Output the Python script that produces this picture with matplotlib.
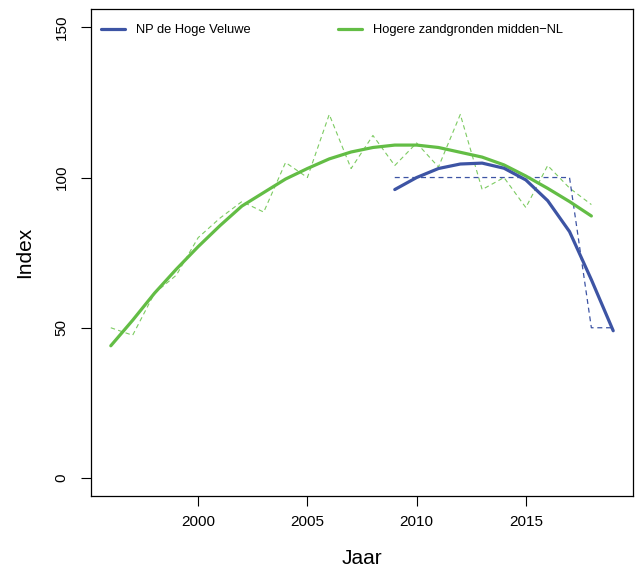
import matplotlib.pyplot as plt
import numpy as np

plt.rcParams['font.family'] = ['Liberation Sans', 'DejaVu Sans']

# Data
years_green = np.arange(1996, 2019)
green_index = [50, 47.5, 61.5, 67.5, 80, 86.5, 92, 88.5, 105, 100, 121,
               103, 114, 104, 111.5, 103.5, 121, 96, 100, 90, 104, 96.5, 91]
green_trend = [44, 52.5, 61.5, 69.5, 77, 84, 90.5, 95, 99.5, 103, 106.2,
               108.5, 110, 110.8, 110.8, 110, 108.4, 106.8, 104.2, 100.5,
               96.4, 92, 87.2]

years_blue = np.arange(2009, 2020)
blue_index = [100, 100, 100, 100, 100, 100, 100, 100, 100, 50, 50]
blue_trend = [96, 100, 103, 104.5, 104.8, 103.1, 99.2, 92.3, 82, 66, 49]

blue = '#3D54A4'
green = '#63BD45'

fig = plt.figure(figsize=(6.37, 5.77), dpi=100)
ax = fig.add_axes([0.1424, 0.1404, 0.9942 - 0.1424, 0.9839 - 0.1404])

ax.plot(years_green, green_index, color='#7DCB62', lw=0.8, ls=(0, (4, 3)))
ax.plot(years_blue, blue_index, color=blue, lw=0.9, ls=(0, (4, 3)))
ax.plot(years_green, green_trend, color=green, lw=2.3, solid_capstyle='round',
        label='Hogere zandgronden midden\u2212NL')
ax.plot(years_blue, blue_trend, color=blue, lw=2.3, solid_capstyle='round',
        label='NP de Hoge Veluwe')

ax.set_xlim(1995.08, 2019.92)
ax.set_ylim(-6, 156)
ax.set_xticks([2000, 2005, 2010, 2015])
ax.set_yticks([0, 50, 100, 150])
ax.tick_params(direction='out', length=7, width=0.8, labelsize=11, pad=7)
ax.tick_params(axis='y', pad=9)
for lbl in ax.get_yticklabels():
    lbl.set_rotation(90)
    lbl.set_va('center')
for s in ax.spines.values():
    s.set_linewidth(0.9)

ax.set_xlabel('Jaar', fontsize=15, labelpad=14)
ax.set_ylabel('Index', fontsize=15, labelpad=15)

handles, labels = ax.get_legend_handles_labels()
ax.legend(handles[::-1], labels[::-1], loc='upper left', ncol=2, frameon=False,
          fontsize=9.3, handlelength=1.85, handletextpad=0.85, columnspacing=6.8,
          bbox_to_anchor=(-0.009, 1.0), borderaxespad=0.75)

plt.savefig('out.png', dpi=100)
